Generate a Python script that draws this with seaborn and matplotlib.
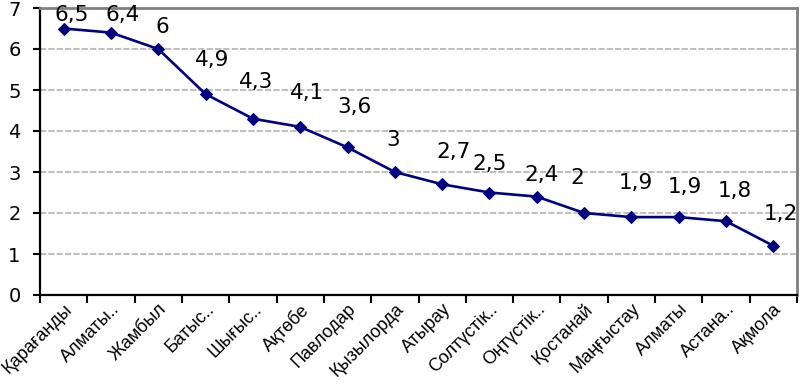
import numpy as np
import pandas as pd
import matplotlib
matplotlib.use("Agg")
import matplotlib.pyplot as plt
import seaborn as sns

regions = ["Қарағанды", "Алматы..", "Жамбыл", "Батыс..", "Шығыс..", "Ақтөбе",
           "Павлодар", "Қызылорда", "Атырау", "Солтүстік..", "Оңтүстік..",
           "Қостанай", "Маңғыстау", "Алматы", "Астана..", "Ақмола"]
values = [6.5, 6.4, 6.0, 4.9, 4.3, 4.1, 3.6, 3.0, 2.7, 2.5, 2.4, 2.0, 1.9, 1.9, 1.8, 1.2]
value_labels = ["6,5", "6,4", "6", "4,9", "4,3", "4,1", "3,6", "3", "2,7", "2,5",
                "2,4", "2", "1,9", "1,9", "1,8", "1,2"]
y_ticks = [0, 1, 2, 3, 4, 5, 6, 7]

# label placement offsets in pixels (styling)
label_dx = [8, 12, 4, 7, 3, 7, 7, -2, 11, 0, 5, -7, 4, 6, 8.5, 7.5]
label_dy = [13.5, 17.6, 22, 34, 37, 34, 40, 32, 32, 28, 22, 35, 34, 30, 30, 32]

sns.set_theme(style="white")
plt.rcParams['font.family'] = ['DejaVu Sans']

fig = plt.figure(figsize=(8, 3.85), dpi=100)
ax = fig.add_axes([40/800, (385-295)/385, (797-40)/800, (295-8)/385])

df = pd.DataFrame({"idx": np.arange(len(regions)), "value": values})
sns.lineplot(data=df, x="idx", y="value", ax=ax, color="#000080", linewidth=1.9,
             marker="D", markersize=6.5, markeredgecolor="#000080", sort=False, zorder=3)

ax.set_xlim(-0.5, len(regions) - 0.5)
ax.set_ylim(0, 7)
ax.set_xlabel("")
ax.set_ylabel("")

ax.set_yticks(y_ticks)
ax.set_yticklabels([str(t) for t in y_ticks])
ax.tick_params(axis="y", which="major", direction="out", length=5, width=1.5,
               color="black", left=True, pad=9, labelsize=14, labelcolor="black")
ax.grid(axis="y", color="#c0c0c0", linestyle=(0, (3, 1)), linewidth=1.5, zorder=0)
ax.grid(axis="x", visible=False)

ax.set_xticks(np.arange(len(regions) + 1) - 0.5)
ax.set_xticklabels([])
ax.set_xticks(np.arange(len(regions)), minor=True)
ax.tick_params(axis="x", which="major", direction="out", length=6, width=1.5,
               color="black", bottom=True)
ax.tick_params(axis="x", which="minor", length=0, pad=4, bottom=True,
               labelsize=13, labelcolor="black")
ax.set_xticklabels(regions, minor=True, rotation=45, ha="right",
                   rotation_mode="anchor", family="Liberation Sans")

for s in ["left", "bottom"]:
    ax.spines[s].set_color("black")
    ax.spines[s].set_linewidth(1.6)
for s in ["top", "right"]:
    ax.spines[s].set_visible(True)
    ax.spines[s].set_color("#808080")
    ax.spines[s].set_linewidth(2)

for i, (v, lab) in enumerate(zip(values, value_labels)):
    ax.annotate(lab, xy=(i, v), xytext=(label_dx[i], label_dy[i]),
                textcoords="offset pixels", ha="center", va="center",
                fontsize=15.5, color="black", annotation_clip=False, zorder=4)

fig.savefig("out.png", dpi=100)
